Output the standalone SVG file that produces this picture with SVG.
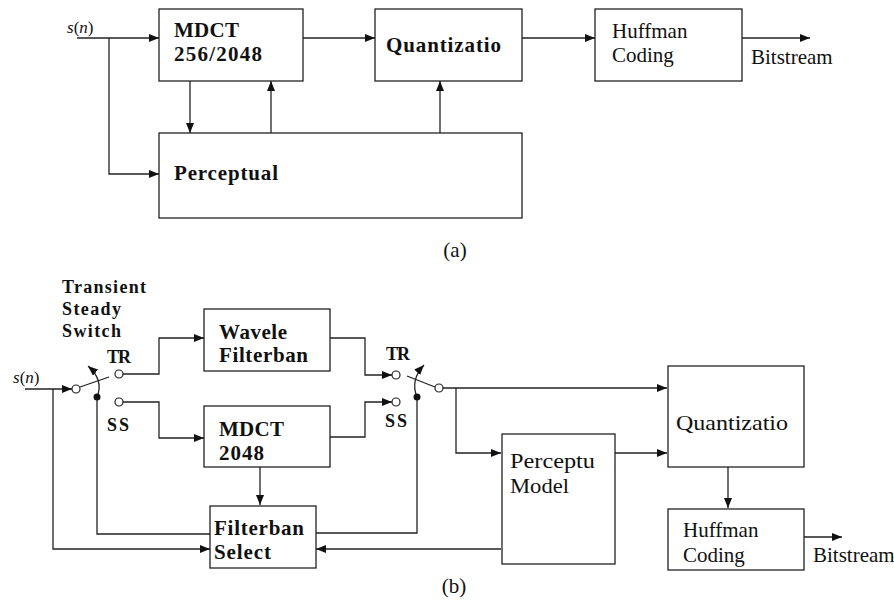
<svg xmlns="http://www.w3.org/2000/svg" width="894" height="601" viewBox="0 0 894 601">
<style>
.box{fill:#fff;stroke:#222;stroke-width:1.3}
.ln{fill:none;stroke:#222;stroke-width:1.3}
.ar{marker-end:url(#ah)}
.b{font-family:"Liberation Serif",serif;font-weight:bold;font-size:21px;fill:#111}
.r{font-family:"Liberation Serif",serif;font-size:21px;fill:#111}
.sm{font-family:"Liberation Serif",serif;font-weight:bold;font-size:18px;fill:#111}
.sig{font-family:"Liberation Serif",serif;font-size:17px;fill:#111}
.oc{fill:#fff;stroke:#222;stroke-width:1.2}
.dot{fill:#111}
</style>
<defs>
<marker id="ah" markerUnits="userSpaceOnUse" markerWidth="11" markerHeight="9" refX="10" refY="4" orient="auto">
<path d="M0,0 L10,4 L0,8 z" fill="#111"/>
</marker>
</defs>

<!-- (a) nodes -->
<g id="a-mdct"><rect class="box" x="159" y="9" width="144" height="72"/><text class="b" x="174" y="37" textLength="65">MDCT</text><text class="b" x="174" y="61" textLength="88">256/2048</text></g>
<g id="a-quant"><rect class="box" x="375" y="9" width="147" height="72"/><text class="b" x="386" y="52" textLength="115">Quantizatio</text></g>
<g id="a-huff"><rect class="box" x="595" y="9" width="147" height="72"/><text class="r" x="612" y="38">Huffman</text><text class="r" x="612" y="62">Coding</text></g>
<g id="a-perc"><rect class="box" x="159" y="133" width="363" height="85"/><text class="b" x="174" y="180" textLength="104">Perceptual</text></g>
<g id="a-labels">
<text class="sig" x="67" y="33"><tspan font-style="italic">s</tspan>(<tspan font-style="italic">n</tspan>)</text>
<text class="r" x="751" y="64">Bitstream</text>
<text class="r" x="455" y="257" text-anchor="middle" font-size="20">(a)</text>
</g>

<!-- (b) nodes -->
<g id="b-wave"><rect class="box" x="204" y="309" width="126" height="62"/><text class="b" x="219" y="339" textLength="68">Wavele</text><text class="b" x="219" y="362" textLength="89">Filterban</text></g>
<g id="b-mdct"><rect class="box" x="204" y="406" width="126" height="61"/><text class="b" x="219" y="436" textLength="65">MDCT</text><text class="b" x="219" y="460" textLength="45">2048</text></g>
<g id="b-fsel"><rect class="box" x="210" y="506" width="106" height="62"/><text class="b" x="214" y="535" textLength="90">Filterban</text><text class="b" x="214" y="559" textLength="57">Select</text></g>
<g id="b-perc"><rect class="box" x="502" y="434" width="113" height="130"/><text class="r" x="510" y="468" textLength="85" lengthAdjust="spacingAndGlyphs">Perceptu</text><text class="r" x="510" y="493" textLength="59" lengthAdjust="spacingAndGlyphs">Model</text></g>
<g id="b-quant"><rect class="box" x="668" y="366" width="136" height="101"/><text class="r" x="676" y="430" textLength="112" lengthAdjust="spacingAndGlyphs">Quantizatio</text></g>
<g id="b-huff"><rect class="box" x="668" y="509" width="136" height="61"/><text class="r" x="683" y="537" font-size="20.5">Huffman</text><text class="r" x="683" y="562" font-size="20.5">Coding</text></g>
<g id="b-labels">
<text class="sm" x="62" y="293" textLength="84">Transient</text>
<text class="sm" x="62" y="315" textLength="59">Steady</text>
<text class="sm" x="62" y="337" textLength="59">Switch</text>
<text class="sm" x="107" y="363" textLength="24">TR</text>
<text class="sm" x="107" y="431" textLength="22">SS</text>
<text class="sm" x="386" y="360" textLength="24">TR</text>
<text class="sm" x="385" y="427" textLength="22">SS</text>
<text class="sig" x="13" y="383" font-size="16"><tspan font-style="italic">s</tspan>(<tspan font-style="italic">n</tspan>)</text>
<text class="r" x="813" y="562" font-size="20.5">Bitstream</text>
<text class="r" x="454" y="593" text-anchor="middle" font-size="20">(b)</text>
</g>

<!-- connectors -->
<g id="connectors">
<path class="ln ar" d="M77,38 H159"/>
<path class="ln ar" d="M109,38 V174 H159"/>
<path class="ln ar" d="M190,81 V133"/>
<path class="ln ar" d="M271,133 V81"/>
<path class="ln ar" d="M303,38 H375"/>
<path class="ln ar" d="M440,133 V81"/>
<path class="ln ar" d="M522,38 H595"/>
<path class="ln ar" d="M742,38 H810"/>

<path class="ln ar" d="M25,389 H72"/>
<path class="ln ar" d="M53,389 V549 H210"/>
<path class="ln" d="M80,387 L109,377"/>
<path class="ln ar" d="M97,397 Q104,380 88,366"/>
<path class="ln" d="M97,397 V534 H210"/>
<path class="ln ar" d="M123,374 H159 V338 H204"/>
<path class="ln ar" d="M123,402 H159 V438 H204"/>
<path class="ln ar" d="M330,338 H365 V375 H392"/>
<path class="ln ar" d="M330,437 H365 V402 H392"/>
<path class="ln" d="M407,376 L435,387"/>
<path class="ln ar" d="M417,397 Q410,380 424,365"/>
<path class="ln" d="M417,397 V533 H316"/>
<path class="ln ar" d="M443,388 H667"/>
<path class="ln ar" d="M456,388 V453 H501"/>
<path class="ln ar" d="M615,453 H667"/>
<path class="ln ar" d="M501,549 H316"/>
<path class="ln ar" d="M260,467 V505"/>
<path class="ln ar" d="M728,467 V508"/>
<path class="ln ar" d="M804,537 H842"/>

<circle class="oc" cx="76" cy="389" r="4"/>
<circle class="oc" cx="119" cy="374" r="4"/>
<circle class="oc" cx="119" cy="402" r="4"/>
<circle class="dot" cx="97" cy="397" r="3.5"/>
<circle class="oc" cx="396" cy="375" r="4"/>
<circle class="oc" cx="396" cy="402" r="4"/>
<circle class="oc" cx="439" cy="388" r="4"/>
<circle class="dot" cx="417" cy="397" r="3.5"/>
</g>
</svg>
